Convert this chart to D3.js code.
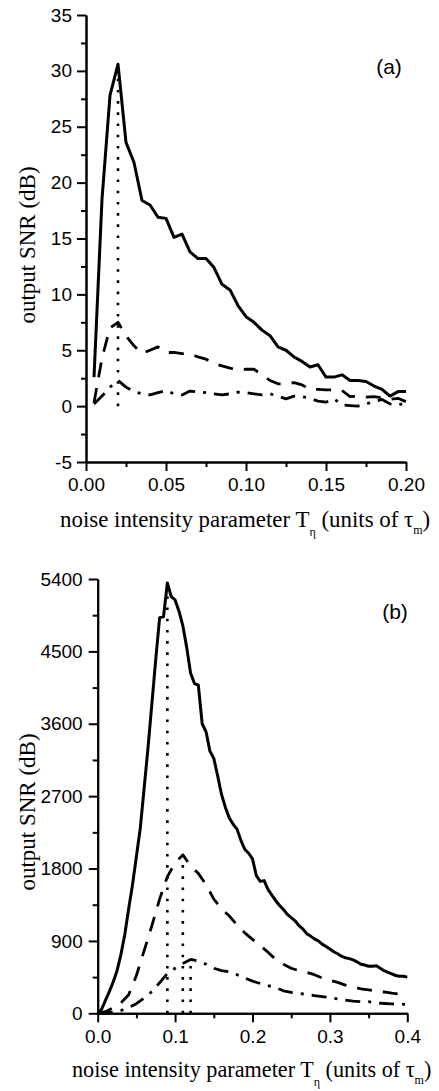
<!DOCTYPE html>
<html>
<head>
<meta charset="utf-8">
<script src="https://cdn.jsdelivr.net/npm/d3@7"></script>
<style>
    body { margin: 0; background: #fff; }
    .tick text { font-family: "Liberation Sans", Arial, sans-serif; font-size: 19px; fill: #000; }
    .axis path, .axis line { stroke: #000; stroke-width: 2; }
    .axis-title { font-family: "Liberation Serif", "Times New Roman", serif; font-size: 23px; fill: #000; }
    .panel-label { font-family: "Liberation Sans", Arial, sans-serif; font-size: 21px; fill: #000; }
</style>
</head>
<body>
<div id="chart"></div>
<script>

// ---- panel (a): noise intensity 0.005 .. 0.2
let tA = [0.005, 0.010, 0.015, 0.020, 0.025, 0.030, 0.035, 0.040, 0.045, 0.050,
    0.055, 0.060, 0.065, 0.070, 0.075, 0.080, 0.085, 0.090, 0.095, 0.100,
    0.105, 0.110, 0.115, 0.120, 0.125, 0.130, 0.135, 0.140, 0.145, 0.150,
    0.155, 0.160, 0.165, 0.170, 0.175, 0.180, 0.185, 0.190, 0.195, 0.200];
let snrA1 = [2.6, 18.5, 27.8, 30.6, 23.6, 21.8, 18.4, 18.0, 16.9, 16.8,
    15.1, 15.4, 13.8, 13.2, 13.2, 12.4, 10.9, 10.4, 9.0, 8.0,
    7.5, 6.8, 6.3, 5.3, 5.0, 4.4, 4.0, 3.5, 3.7, 2.6,
    2.6, 2.8, 2.3, 2.3, 2.2, 1.8, 1.5, 0.9, 1.3, 1.3];
let snrA2 = [0.3, 4.3, 7.0, 7.5, 6.3, 5.4, 4.7, 5.0, 5.3, 4.8,
    4.8, 4.7, 4.7, 4.4, 4.2, 3.8, 3.6, 3.4, 3.25, 3.3,
    3.3, 2.8, 2.3, 2.0, 2.0, 2.1, 1.9, 1.5, 1.5, 1.45,
    1.45, 1.4, 0.85, 0.9, 0.8, 0.85, 0.75, 0.6, 0.7, 0.4];
let snrA3 = [0.2, 0.9, 1.7, 2.3, 1.7, 1.3, 1.1, 1.0, 1.2, 1.4,
    1.1, 1.0, 1.35, 1.27, 1.2, 1.1, 1.0, 1.1, 1.25, 1.2,
    1.1, 1.0, 1.1, 0.9, 0.65, 0.9, 0.85, 0.7, 0.45, 0.35,
    0.65, 0.1, 0.05, 0.0, 0.2, 0.4, 0.6, 0.2, 0.1, 0.3];
let peaksA = [[0.02, 30.6]];
let xTicksA = [0, 0.05, 0.10, 0.15, 0.20];
let yTicksA = [-5, 0, 5, 10, 15, 20, 25, 30, 35];

// ---- panel (b): noise intensity 0 .. 0.4
let tB = [0.000, 0.005, 0.010, 0.015, 0.020, 0.025, 0.030, 0.035, 0.040, 0.045,
    0.050, 0.055, 0.060, 0.065, 0.070, 0.075, 0.080, 0.085, 0.090, 0.095,
    0.100, 0.105, 0.110, 0.115, 0.120, 0.125, 0.130, 0.135, 0.140, 0.145,
    0.150, 0.155, 0.160, 0.165, 0.170, 0.175, 0.180, 0.185, 0.190, 0.195,
    0.200, 0.205, 0.210, 0.215, 0.220, 0.225, 0.230, 0.235, 0.240, 0.245,
    0.250, 0.255, 0.260, 0.265, 0.270, 0.275, 0.280, 0.285, 0.290, 0.295,
    0.300, 0.305, 0.310, 0.315, 0.320, 0.325, 0.330, 0.335, 0.340, 0.345,
    0.350, 0.355, 0.360, 0.365, 0.370, 0.375, 0.380, 0.385, 0.390, 0.395, 0.400];
let snrB1 = [0, 50, 160, 270, 390, 530, 730, 980, 1300, 1600,
    1950, 2300, 2800, 3300, 3850, 4400, 4920, 4930, 5350, 5180,
    5140, 5000, 4820, 4550, 4230, 4100, 4080, 3600, 3500, 3260,
    3170, 2950, 2720, 2560, 2430, 2350, 2290, 2150, 2040, 1990,
    1920, 1710, 1640, 1650, 1540, 1470, 1400, 1340, 1290, 1230,
    1190, 1150, 1090, 1050, 990, 960, 925, 900, 860, 830,
    800, 765, 740, 710, 690, 680, 665, 640, 610, 600,
    585, 585, 590, 560, 530, 510, 490, 470, 460, 460, 450];
let tB2 = [0.00, 0.01, 0.02, 0.03, 0.04, 0.05, 0.06, 0.07, 0.08, 0.09,
    0.10, 0.11, 0.12, 0.13, 0.14, 0.15, 0.16, 0.17, 0.18, 0.19,
    0.20, 0.21, 0.22, 0.23, 0.24, 0.25, 0.26, 0.27, 0.28, 0.29,
    0.30, 0.31, 0.32, 0.33, 0.34, 0.35, 0.36, 0.37, 0.38, 0.39, 0.40];
let snrB2 = [0, 20, 70, 130, 230, 470, 780, 1090, 1420, 1700,
    1870, 1970, 1830, 1740, 1600, 1420, 1300, 1210, 1100, 1000,
    920, 840, 760, 670, 610, 560, 530, 510, 480, 440,
    410, 385, 350, 330, 305, 290, 275, 265, 250, 240, 228];
let snrB3 = [0, 5, 15, 35, 70, 120, 190, 270, 380, 495,
    560, 620, 670, 650, 610, 560, 530, 515, 480, 440,
    400, 370, 345, 320, 280, 260, 248, 235, 220, 208,
    195, 180, 165, 152, 145, 145, 128, 122, 116, 116, 110];
let peaksB = [[0.09, 5350], [0.11, 1970], [0.12, 670]];
let xTicksB = [0, 0.1, 0.2, 0.3, 0.4];
let yTicksB = [0, 900, 1800, 2700, 3600, 4500, 5400];

let lineStyles = {
    solid: {width: 3, dash: null},
    dashed: {width: 2.8, dash: "15,11"},
    dashdot: {width: 2.8, dash: "15,8,3,8"}
};


/*
 *  SnrPanel - one panel of output SNR against noise intensity
 */
class SnrPanel {

    constructor(svg, config) {
        this.svg = svg;
        this.config = config;
        this.initVis();
    }

    initVis() {
        let vis = this;
        let c = vis.config;

        vis.x = d3.scaleLinear().domain(c.xDomain).range(c.xRange);
        vis.y = d3.scaleLinear().domain(c.yDomain).range(c.yRange);

        vis.g = vis.svg.append("g");

        // minor ticks first, majors with labels on top
        vis.g.append("g")
            .attr("class", "axis")
            .attr("transform", `translate(0, ${c.yRange[0]})`)
            .call(d3.axisBottom(vis.x).tickValues(c.xMinor).tickSize(5).tickSizeOuter(0).tickFormat(""));
        vis.g.append("g")
            .attr("class", "axis")
            .attr("transform", `translate(${c.xRange[0]}, 0)`)
            .call(d3.axisLeft(vis.y).tickValues(c.yMinor).tickSize(5).tickSizeOuter(0).tickFormat(""));

        vis.g.append("g")
            .attr("class", "axis x-axis")
            .attr("transform", `translate(0, ${c.yRange[0]})`)
            .call(d3.axisBottom(vis.x).tickValues(c.xTicks).tickSize(9).tickSizeOuter(0)
                .tickPadding(7).tickFormat(d3.format(c.xFormat)));
        vis.g.append("g")
            .attr("class", "axis y-axis")
            .attr("transform", `translate(${c.xRange[0]}, 0)`)
            .call(d3.axisLeft(vis.y).tickValues(c.yTicks).tickSize(9).tickSizeOuter(0)
                .tickPadding(c.yPad).tickFormat(d => String(d)));

        // axis titles
        vis.g.append("text")
            .attr("class", "axis-title")
            .attr("transform", `translate(${c.yTitlePos[0]}, ${c.yTitlePos[1]}) rotate(-90)`)
            .attr("text-anchor", "middle")
            .attr("dy", "0.35em")
            .text("output SNR (dB)");

        let xt = vis.g.append("text")
            .attr("class", "axis-title")
            .attr("x", c.xTitlePos[0])
            .attr("y", c.xTitlePos[1])
            .style("font-size", c.xTitleSize + "px");
        xt.append("tspan").text("noise intensity parameter T");
        xt.append("tspan").attr("font-size", 12).attr("dy", 9).text("η");
        xt.append("tspan").attr("dy", -9).text(" (units of τ");
        xt.append("tspan").attr("font-size", 12).attr("dy", 7).text("m");
        xt.append("tspan").attr("dy", -7).text(")");

        vis.g.append("text")
            .attr("class", "panel-label")
            .attr("x", c.labelPos[0])
            .attr("y", c.labelPos[1])
            .attr("text-anchor", "middle")
            .text(c.label);

        vis.updateVis();
    }

    updateVis() {
        let vis = this;
        let c = vis.config;

        // dotted markers at the resonance peaks
        vis.g.selectAll(".peak-line")
            .data(c.peaks)
            .enter().append("line")
            .attr("class", "peak-line")
            .attr("x1", d => vis.x(d[0]))
            .attr("x2", d => vis.x(d[0]))
            .attr("y1", vis.y(0))
            .attr("y2", d => vis.y(d[1]))
            .attr("stroke", "#000")
            .attr("stroke-width", 2.6)
            .attr("stroke-dasharray", "2.6,8.6");

        let line = d3.line()
            .x(d => vis.x(d[0]))
            .y(d => vis.y(d[1]));

        c.series.forEach(s => {
            let st = lineStyles[s.style];
            vis.g.append("path")
                .datum(d3.zip(s.t, s.values))
                .attr("fill", "none")
                .attr("stroke", "#000")
                .attr("stroke-width", st.width)
                .attr("stroke-linejoin", "round")
                .attr("stroke-dasharray", st.dash)
                .attr("d", line);
        });
    }
}


let svg = d3.select("#chart").append("svg")
    .attr("width", 439)
    .attr("height", 1091);

new SnrPanel(svg, {
    xDomain: [0, 0.2], xRange: [86, 406],
    yDomain: [-5, 35], yRange: [462, 15],
    xTicks: xTicksA, xMinor: [0.025, 0.075, 0.125, 0.175], xFormat: ".2f",
    yTicks: yTicksA, yMinor: [-2.5, 2.5, 7.5, 12.5, 17.5, 22.5, 27.5, 32.5], yPad: 5,
    yTitlePos: [27, 245], xTitlePos: [60, 527], xTitleSize: 22.9,
    label: "(a)", labelPos: [389, 74],
    peaks: peaksA,
    series: [
        {t: tA, values: snrA1, style: "solid"},
        {t: tA, values: snrA2, style: "dashed"},
        {t: tA, values: snrA3, style: "dashdot"}
    ]
});

new SnrPanel(svg, {
    xDomain: [0, 0.4], xRange: [97.7, 407.3],
    yDomain: [0, 5400], yRange: [1013.3, 579],
    xTicks: xTicksB, xMinor: [0.05, 0.15, 0.25, 0.35], xFormat: ".1f",
    yTicks: yTicksB, yMinor: [450, 1350, 2250, 3150, 4050, 4950], yPad: 6,
    yTitlePos: [27, 812], xTitlePos: [72, 1077], xTitleSize: 22.2,
    label: "(b)", labelPos: [395, 619],
    peaks: peaksB,
    series: [
        {t: tB, values: snrB1, style: "solid"},
        {t: tB2, values: snrB2, style: "dashed"},
        {t: tB2, values: snrB3, style: "dashdot"}
    ]
});

</script>
</body>
</html>
